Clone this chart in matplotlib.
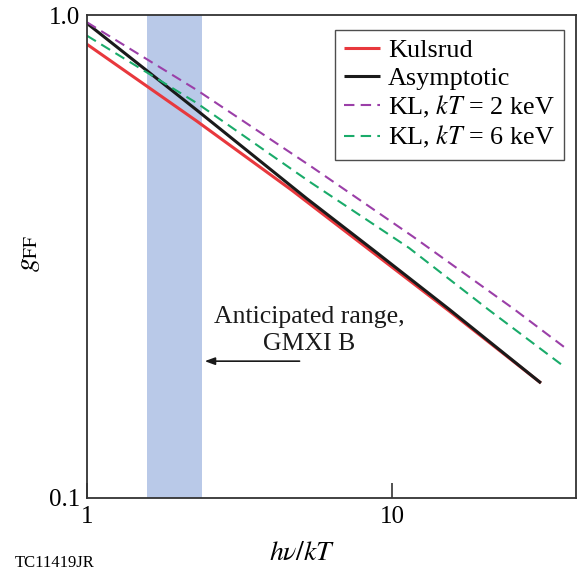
import matplotlib
matplotlib.use("Agg")
import matplotlib.pyplot as plt

plt.rcParams['font.family'] = ['Liberation Serif', 'DejaVu Serif']
plt.rcParams['mathtext.fontset'] = 'stix'

# Data (log-log plot)
kulsrud_x = [1.0, 2.288, 4.677, 15.35, 30.7]
kulsrud_g = [0.8696, 0.6031, 0.4342, 0.244, 0.173]

asym_x = [1.0, 2.288, 5.236, 8.670, 15.35, 30.7]
asym_g = [0.961, 0.6356, 0.4173, 0.3262, 0.2460, 0.173]

kl2_x = [1.0, 2.288, 5.437, 11.71, 25.05, 36.5]
kl2_g = [0.9658, 0.6995, 0.4852, 0.3475, 0.2461, 0.2056]

kl6_x = [1.0, 2.288, 5.356, 11.36, 20.75, 35.97]
kl6_g = [0.906, 0.6573, 0.4518, 0.3293, 0.2450, 0.1886]

band_range = [1.57, 2.38]

labels = ['Kulsrud', 'Asymptotic', 'KL, $kT$ = 2 keV', 'KL, $kT$ = 6 keV']

fig = plt.figure(figsize=(5.78, 5.79), dpi=100)
ax = fig.add_axes([87/578, 81/579, 489/578, 483/579])

ax.axvspan(band_range[0], band_range[1], color='#b9c9e8', lw=0, zorder=0)

ax.plot(kulsrud_x, kulsrud_g, color='#e8383d', lw=2.2, label=labels[0], solid_capstyle='butt')
ax.plot(asym_x, asym_g, color='#1a1a1a', lw=2.2, label=labels[1], solid_capstyle='butt')
ax.plot(kl2_x, kl2_g, color='#9b3fa8', lw=1.5, dashes=(5, 3), label=labels[2])
ax.plot(kl6_x, kl6_g, color='#1aab6a', lw=1.5, dashes=(5, 3), label=labels[3])

ax.set_xscale('log')
ax.set_yscale('log')
ax.set_xlim(1, 40)
ax.set_ylim(0.1, 1.0)

ax.set_xticks([1, 10])
ax.set_xticklabels(['1', '10'])
ax.set_yticks([0.1, 1.0])
ax.set_yticklabels(['0.1', '1.0'])
ax.minorticks_off()
ax.tick_params(axis='both', which='both', direction='in', length=11, width=1.2,
               labelsize=18, color='#333333')
ax.tick_params(axis='x', pad=6)
ax.tick_params(axis='y', pad=5, length=0)

for s in ax.spines.values():
    s.set_color('#333333')
    s.set_linewidth(1.3)

leg = ax.legend(loc='upper right', bbox_to_anchor=(0.9755, 0.969), borderaxespad=0,
                fontsize=18.8, frameon=True, fancybox=False, edgecolor='#222222',
                handlelength=1.4, handletextpad=0.3, labelspacing=0.16, borderpad=0.35)
leg.get_frame().set_linewidth(1.0)

ax.text(5.35, 0.222, 'Anticipated range,\nGMXI B', ha='center', va='center',
        fontsize=18.5, linespacing=1.3, color='#1a1a1a')
ax.annotate('', xy=(2.43, 0.192), xytext=(4.97, 0.192),
            arrowprops=dict(arrowstyle='-|>,head_length=0.6,head_width=0.22',
                            color='#1a1a1a', lw=1.2, shrinkA=0, shrinkB=0))

fig.text(302/578, 1 - 553/579, r'$h\nu/kT$', ha='center', va='center', fontsize=20)
fig.text(30/578, 1 - 253/579, r'$g_{\mathrm{FF}}$', ha='center', va='center',
         rotation=90, fontsize=20)
fig.text(15/578, 1 - 563/579, 'TC11419JR', ha='left', va='center', fontsize=12)

fig.savefig('out.png', dpi=100)
